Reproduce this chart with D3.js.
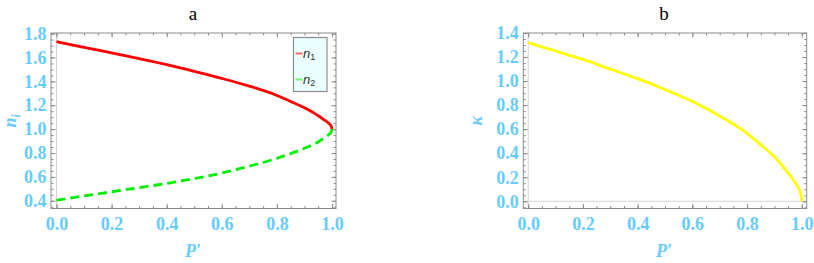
<!DOCTYPE html>
<html>
<head>
<meta charset="utf-8">
<script src="https://cdn.jsdelivr.net/npm/d3@7"></script>
<style>
  body { margin: 0; background: #fff; }
  svg { display: block; }
</style>
</head>
<body>
<div id="chart"></div>
<script>
// values
const pValues = [0, 0.1, 0.2, 0.3, 0.4, 0.5, 0.6, 0.7, 0.8, 0.85, 0.9, 0.95, 0.97, 0.99, 0.998, 1.0];
const n1Values = [1.732, 1.685, 1.638, 1.59, 1.54, 1.484, 1.425, 1.36, 1.282, 1.232, 1.178, 1.112, 1.08, 1.045, 1.02, 1.0];
const n2Values = [0.404, 0.44, 0.475, 0.51, 0.545, 0.586, 0.632, 0.69, 0.755, 0.795, 0.84, 0.892, 0.925, 0.958, 0.98, 1.0];
const kappaValues = [1.32, 1.25, 1.18, 1.10, 1.02, 0.93, 0.83, 0.71, 0.565, 0.47, 0.37, 0.235, 0.175, 0.1, 0.045, 0.0];

const xTicks = [0, 0.2, 0.4, 0.6, 0.8, 1.0];
const nTicks = [0.4, 0.6, 0.8, 1.0, 1.2, 1.4, 1.6, 1.8];
const kTicks = [0.0, 0.2, 0.4, 0.6, 0.8, 1.0, 1.2, 1.4];

const TICK_COLOR = "#66ccff";
const FRAME_COLOR = "#8c8c8c";
const SERIF = "'Liberation Serif', 'Times New Roman', Times, serif";

const svg = d3.select("#chart").append("svg")
    .attr("width", 814)
    .attr("height", 263);

function drawPanel(opts) {
    const x = d3.scaleLinear().domain(opts.xDomain).range([opts.left, opts.right]);
    const y = d3.scaleLinear().domain(opts.yDomain).range([opts.bottom, opts.top]);
    const g = svg.append("g");

    // minor ticks every 0.05
    const xMinor = d3.range(0, 1.0001, 0.05);
    const yMinor = d3.range(opts.yMinorStart, opts.yDomain[1] + 0.0001, 0.05);

    function frameAxis(axisFn, scale, ticks, size, tx, ty, pad) {
        const a = axisFn(scale).tickValues(ticks).tickSize(size).tickSizeOuter(0);
        if (pad) a.tickPadding(pad).tickFormat(d3.format(".1f")); else a.tickFormat("");
        const ag = g.append("g").attr("transform", "translate(" + tx + "," + ty + ")").call(a);
        ag.select(".domain").remove();
        ag.selectAll("line").attr("stroke", FRAME_COLOR).attr("stroke-width", 1);
        ag.selectAll("text")
            .attr("fill", TICK_COLOR)
            .style("font-family", SERIF)
            .style("font-weight", "bold")
            .style("font-size", "18px");
        return ag;
    }

    // axis lines through the origin
    g.append("line")
        .attr("x1", x(0)).attr("x2", x(0))
        .attr("y1", opts.top).attr("y2", opts.bottom)
        .attr("stroke", "#d4d4d4").attr("stroke-width", 1);
    if (opts.yDomain[0] < 0) {
        g.append("line")
            .attr("x1", opts.left).attr("x2", opts.right)
            .attr("y1", y(0)).attr("y2", y(0))
            .attr("stroke", "#d4d4d4").attr("stroke-width", 1);
    }

    // bottom / top
    frameAxis(d3.axisBottom, x, xTicks, -4.5, 0, opts.bottom, 9);
    frameAxis(d3.axisBottom, x, xMinor, -2.5, 0, opts.bottom, 0);
    frameAxis(d3.axisTop, x, xTicks, -4.5, 0, opts.top, 0);
    frameAxis(d3.axisTop, x, xMinor, -2.5, 0, opts.top, 0);
    // left / right
    frameAxis(d3.axisLeft, y, opts.yTicks, -4.5, opts.left, 0, 4.5);
    frameAxis(d3.axisLeft, y, yMinor, -2.5, opts.left, 0, 0);
    frameAxis(d3.axisRight, y, opts.yTicks, -4.5, opts.right, 0, 0);
    frameAxis(d3.axisRight, y, yMinor, -2.5, opts.right, 0, 0);

    g.append("rect")
        .attr("x", opts.left).attr("y", opts.top)
        .attr("width", opts.right - opts.left).attr("height", opts.bottom - opts.top)
        .attr("fill", "none").attr("stroke", FRAME_COLOR).attr("stroke-width", 1);

    const clipId = "clip-" + opts.name;
    svg.append("clipPath").attr("id", clipId).append("rect")
        .attr("x", opts.left).attr("y", opts.top)
        .attr("width", opts.right - opts.left).attr("height", opts.bottom - opts.top);

    opts.series.forEach(s => {
        const line = d3.line()
            .x((d, i) => x(pValues[i]))
            .y(d => y(d))
            .curve(d3.curveMonotoneX);
        g.append("path")
            .datum(s.values)
            .attr("clip-path", "url(#" + clipId + ")")
            .attr("fill", "none")
            .attr("stroke", s.color)
            .attr("stroke-width", 2.8)
            .attr("stroke-dasharray", s.dash || null)
            .attr("d", line);
    });

    // panel title
    g.append("text")
        .attr("x", opts.titleX)
        .attr("y", 20)
        .attr("text-anchor", "middle")
        .style("font-family", SERIF)
        .style("font-size", "19px")
        .attr("fill", "#000")
        .text(opts.title);

    // x label
    g.append("text")
        .attr("x", opts.titleX)
        .attr("y", 257)
        .attr("text-anchor", "middle")
        .style("font-family", SERIF)
        .style("font-style", "italic")
        .style("font-weight", "bold")
        .style("font-size", "18px")
        .attr("fill", TICK_COLOR)
        .text("P\u2032");

    // y label
    const yl = g.append("text")
        .attr("transform", "translate(" + opts.yLabelX + "," + ((opts.top + opts.bottom) / 2) + ") rotate(-90)")
        .attr("text-anchor", "middle")
        .style("font-family", SERIF)
        .style("font-style", "italic")
        .style("font-weight", "bold")
        .style("font-size", "18px")
        .attr("fill", TICK_COLOR);
    yl.append("tspan").text(opts.yLabel);
    if (opts.yLabelSub) {
        yl.append("tspan").style("font-size", "12px").attr("dy", 4).text(opts.yLabelSub);
    }

    return { g, x, y };
}

const left = drawPanel({
    name: "a", title: "a", titleX: 193,
    left: 51, right: 336, top: 33, bottom: 208.5,
    xDomain: [-0.02, 1.0145], yDomain: [0.335, 1.805],
    yTicks: nTicks, yMinorStart: 0.35,
    yLabel: "n", yLabelSub: "i", yLabelX: 16,
    series: [
        { values: n1Values, color: "#ff0000" },
        { values: n2Values, color: "#00ee00", dash: "9,5" }
    ]
});

drawPanel({
    name: "b", title: "b", titleX: 664,
    left: 523.3, right: 806.7, top: 33, bottom: 208.5,
    xDomain: [-0.018, 1.018], yDomain: [-0.06, 1.40],
    yTicks: kTicks, yMinorStart: -0.05,
    yLabel: "\u03ba", yLabelX: 482,
    series: [
        { values: kappaValues, color: "#ffff00" }
    ]
});

// legend in panel a
const legend = left.g.append("g").attr("transform", "translate(293.5,37.5)");
legend.append("rect")
    .attr("width", 33.5).attr("height", 54)
    .attr("fill", "#eaffff")
    .attr("stroke", "#8c8c8c").attr("stroke-width", 1.2);
const legendItems = [
    { label: "n", sub: "1", color: "#ff6666", y: 16 },
    { label: "n", sub: "2", color: "#77ee77", y: 42 }
];
legendItems.forEach(item => {
    legend.append("line")
        .attr("x1", 2).attr("x2", 9)
        .attr("y1", item.y).attr("y2", item.y)
        .attr("stroke", item.color).attr("stroke-width", 2);
    const t = legend.append("text")
        .attr("x", 9.5).attr("y", item.y + 4)
        .style("font-family", "'Liberation Sans', Arial, sans-serif")
        .style("font-size", "13px")
        .attr("fill", "#333");
    t.append("tspan").style("font-style", "italic").text(item.label);
    t.append("tspan").style("font-size", "9px").attr("dy", 2).text(item.sub);
});
</script>
</body>
</html>
